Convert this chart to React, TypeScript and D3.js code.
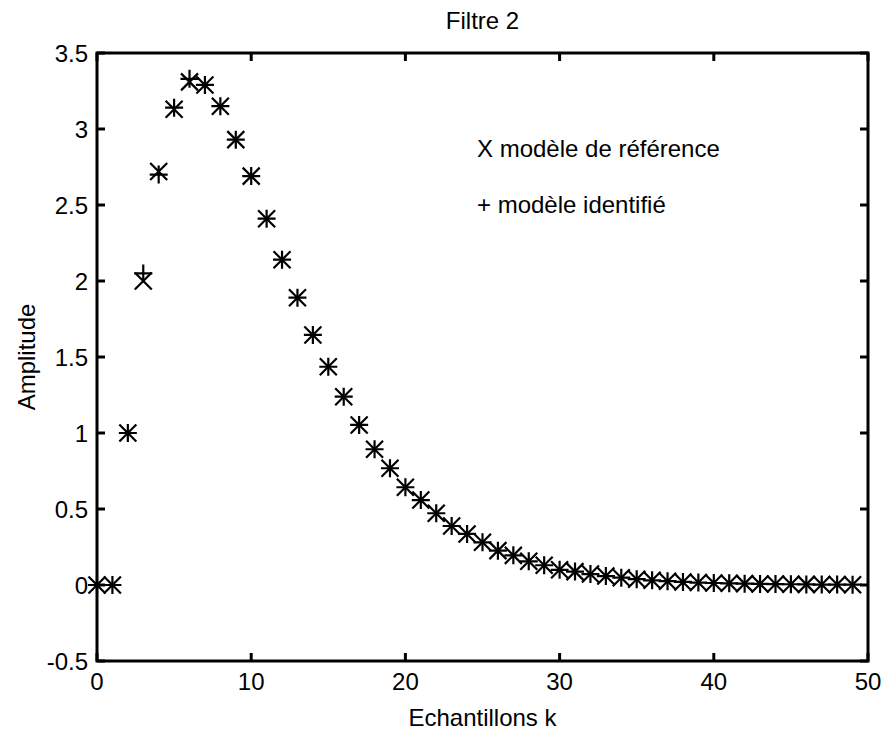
import React from "react";
import * as d3 from "d3";

const samples: number[] = Array.from({ length: 50 }, (_, i) => i);
const referenceModel: number[] = [
  0, 0, 1.0, 2.0, 2.72, 3.13, 3.31, 3.29, 3.15, 2.93,
  2.69, 2.41, 2.14, 1.89, 1.645, 1.436, 1.239, 1.053, 0.893, 0.768,
  0.643, 0.559, 0.472, 0.388, 0.336, 0.281, 0.226, 0.195, 0.156, 0.13,
  0.1, 0.088, 0.072, 0.059, 0.048, 0.038, 0.031, 0.025, 0.02, 0.016,
  0.013, 0.011, 0.009, 0.007, 0.006, 0.005, 0.004, 0.003, 0.003, 0.002,
];
const identifiedModel: number[] = [
  0, 0, 1.0, 2.05, 2.7, 3.14, 3.33, 3.29, 3.15, 2.93,
  2.69, 2.41, 2.14, 1.89, 1.645, 1.436, 1.239, 1.053, 0.893, 0.768,
  0.643, 0.559, 0.472, 0.388, 0.336, 0.281, 0.226, 0.195, 0.156, 0.13,
  0.1, 0.088, 0.072, 0.059, 0.048, 0.038, 0.031, 0.025, 0.02, 0.016,
  0.013, 0.011, 0.009, 0.007, 0.006, 0.005, 0.004, 0.003, 0.003, 0.002,
];
const xTicks: number[] = [0, 10, 20, 30, 40, 50];
const yTicks: number[] = [-0.5, 0, 0.5, 1, 1.5, 2, 2.5, 3, 3.5];
const title = "Filtre 2";
const xLabel = "Echantillons k";
const yLabel = "Amplitude";
const legendRef = "X modèle de référence";
const legendId = "+ modèle identifié";

const W = 888;
const H = 733;
const L = 97, R = 868, T = 53, B = 661;
const FONT = "'Liberation Sans', Arial, Helvetica, sans-serif";
const FS = 24;

export default function App() {
  const x = d3.scaleLinear().domain([0, 50]).range([L, R]);
  const y = d3.scaleLinear().domain([-0.5, 3.5]).range([B, T]);
  const tickLen = 8;
  const xs = 8.5;
  const ps = 9;

  return (
    <svg
      width={W}
      height={H}
      style={{ position: "absolute", left: 0, top: 0, background: "#fff" }}
      fontFamily={FONT}
    >
      <rect x={0} y={0} width={W} height={H} fill="#fff" />
      <g stroke="#000" strokeWidth={2.2} fill="none">
        {samples.map((k) => {
          const cx = x(k), cy = y(referenceModel[k]);
          return (
            <path
              key={"r" + k}
              d={`M${cx - xs},${cy - xs}L${cx + xs},${cy + xs}M${cx - xs},${cy + xs}L${cx + xs},${cy - xs}`}
            />
          );
        })}
        {samples.map((k) => {
          const cx = x(k), cy = y(identifiedModel[k]);
          return (
            <path
              key={"i" + k}
              d={`M${cx - ps},${cy}L${cx + ps},${cy}M${cx},${cy - ps}L${cx},${cy + ps}`}
            />
          );
        })}
      </g>
      <g stroke="#000" strokeWidth={3} fill="none">
        <rect x={L} y={T} width={R - L} height={B - T} />
        {xTicks.map((t) => (
          <g key={"xt" + t}>
            <line x1={x(t)} x2={x(t)} y1={B} y2={B - tickLen} />
            <line x1={x(t)} x2={x(t)} y1={T} y2={T + tickLen} />
          </g>
        ))}
        {yTicks.map((t) => (
          <g key={"yt" + t}>
            <line x1={L} x2={L + tickLen} y1={y(t)} y2={y(t)} />
            <line x1={R} x2={R - tickLen} y1={y(t)} y2={y(t)} />
          </g>
        ))}
      </g>
      <g fontSize={FS} fill="#000">
        {xTicks.map((t) => (
          <text key={"xl" + t} x={x(t)} y={B + 29} textAnchor="middle">
            {String(t)}
          </text>
        ))}
        {yTicks.map((t) => (
          <text key={"yl" + t} x={L - 9} y={y(t)} dy="0.36em" textAnchor="end">
            {String(t)}
          </text>
        ))}
      </g>
      <text x={(L + R) / 2} y={29} textAnchor="middle" fontSize={FS}>
        {title}
      </text>
      <text x={(L + R) / 2} y={726} textAnchor="middle" fontSize={FS}>
        {xLabel}
      </text>
      <text
        transform={`translate(35,${(T + B) / 2}) rotate(-90)`}
        textAnchor="middle"
        fontSize={FS}
      >
        {yLabel}
      </text>
      <text x={477} y={157} fontSize={FS}>
        {legendRef}
      </text>
      <text x={477} y={213} fontSize={FS}>
        {legendId}
      </text>
    </svg>
  );
}
